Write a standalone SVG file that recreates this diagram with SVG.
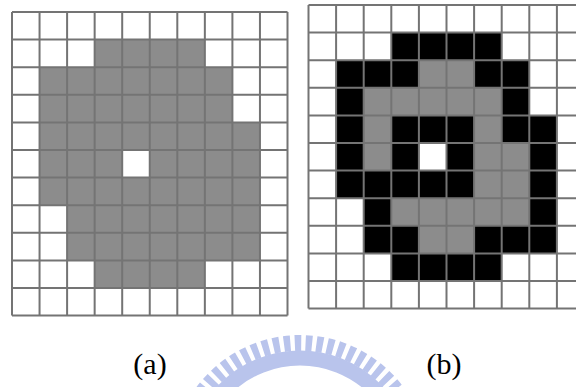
<svg xmlns="http://www.w3.org/2000/svg" width="576" height="387" viewBox="0 0 576 387">
<style>
.g{fill:#8c8c8c}
.k{fill:#000}
.ln{fill:none;stroke:#747474;stroke-width:2}
.lbl{font-family:"Liberation Serif","Times New Roman",serif;font-size:30px;fill:#000;text-anchor:middle}
.wm{fill:none;stroke:#b9c4ec}
</style>
<rect width="576" height="387" fill="#fff"/>
<g id="watermark">
<circle class="wm" cx="300" cy="464" r="106" stroke-width="15"/>
<circle class="wm" cx="300" cy="464" r="121" stroke-width="16" stroke-dasharray="6.5 4.36"/>
</g>
<g id="grid-a">
<rect class="g" x="94.65" y="39.6" width="110.2" height="27.6"/>
<rect class="g" x="39.55" y="67.2" width="192.85" height="55.2"/>
<rect class="g" x="39.55" y="122.4" width="220.4" height="27.6"/>
<rect class="g" x="39.55" y="150" width="82.65" height="27.6"/>
<rect class="g" x="149.75" y="150" width="110.2" height="27.6"/>
<rect class="g" x="39.55" y="177.6" width="220.4" height="27.6"/>
<rect class="g" x="67.1" y="205.2" width="192.85" height="55.2"/>
<rect class="g" x="94.65" y="260.4" width="110.2" height="27.6"/>
<path class="ln" d="M12 12V315.6M39.55 12V315.6M67.1 12V315.6M94.65 12V315.6M122.2 12V315.6M149.75 12V315.6M177.3 12V315.6M204.85 12V315.6M232.4 12V315.6M259.95 12V315.6M287.5 12V315.6M12 12H287.5M12 39.6H287.5M12 67.2H287.5M12 94.8H287.5M12 122.4H287.5M12 150H287.5M12 177.6H287.5M12 205.2H287.5M12 232.8H287.5M12 260.4H287.5M12 288H287.5M12 315.6H287.5"/>
</g>
<g id="grid-b">
<rect class="k" x="391.3" y="32.6" width="110.4" height="27.6"/>
<rect class="k" x="336.1" y="60.2" width="82.8" height="27.6"/>
<rect class="k" x="474.1" y="60.2" width="55.2" height="27.6"/>
<rect class="k" x="336.1" y="87.8" width="27.6" height="82.8"/>
<rect class="k" x="501.7" y="87.8" width="27.6" height="27.6"/>
<rect class="k" x="391.3" y="115.4" width="82.8" height="27.6"/>
<rect class="k" x="501.7" y="115.4" width="55.2" height="27.6"/>
<rect class="k" x="391.3" y="143" width="27.6" height="27.6"/>
<rect class="k" x="446.5" y="143" width="27.6" height="27.6"/>
<rect class="k" x="529.3" y="143" width="27.6" height="82.8"/>
<rect class="k" x="336.1" y="170.6" width="138" height="27.6"/>
<rect class="k" x="363.7" y="198.2" width="27.6" height="27.6"/>
<rect class="k" x="363.7" y="225.8" width="55.2" height="27.6"/>
<rect class="k" x="474.1" y="225.8" width="82.8" height="27.6"/>
<rect class="k" x="391.3" y="253.4" width="110.4" height="27.6"/>
<rect class="g" x="418.9" y="60.2" width="55.2" height="27.6"/>
<rect class="g" x="363.7" y="87.8" width="138" height="27.6"/>
<rect class="g" x="363.7" y="115.4" width="27.6" height="55.2"/>
<rect class="g" x="474.1" y="115.4" width="27.6" height="27.6"/>
<rect class="g" x="474.1" y="143" width="55.2" height="55.2"/>
<rect class="g" x="391.3" y="198.2" width="138" height="27.6"/>
<rect class="g" x="418.9" y="225.8" width="55.2" height="27.6"/>
<path class="ln" d="M308.5 5V308.6M336.1 5V308.6M363.7 5V308.6M391.3 5V308.6M418.9 5V308.6M446.5 5V308.6M474.1 5V308.6M501.7 5V308.6M529.3 5V308.6M556.9 5V308.6M584.5 5V308.6M308.5 5H584.5M308.5 32.6H584.5M308.5 60.2H584.5M308.5 87.8H584.5M308.5 115.4H584.5M308.5 143H584.5M308.5 170.6H584.5M308.5 198.2H584.5M308.5 225.8H584.5M308.5 253.4H584.5M308.5 281H584.5M308.5 308.6H584.5"/>
</g>
<g id="labels">
<text class="lbl" x="150" y="374">(a)</text>
<text class="lbl" x="444" y="374">(b)</text>
</g>
</svg>
